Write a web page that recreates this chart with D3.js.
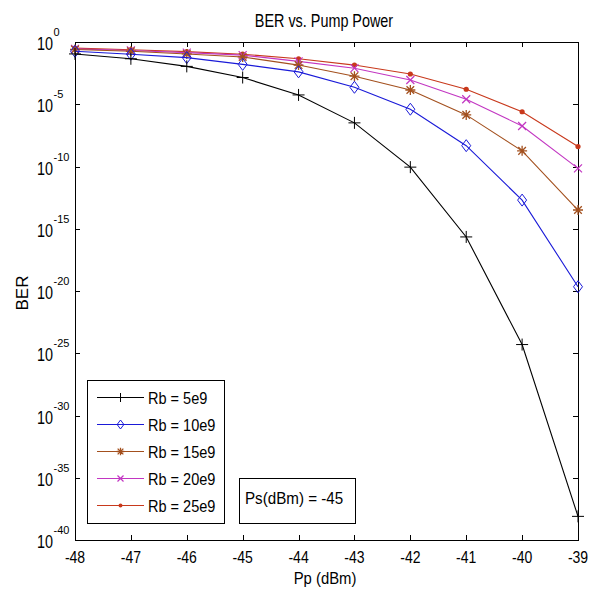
<!DOCTYPE html>
<html>
<head>
<meta charset="utf-8">
<script src="https://cdn.jsdelivr.net/npm/d3@7"></script>
<style>
  body { margin: 0; background: #fff; }
  text { font-family: "Liberation Sans", Arial, sans-serif; fill: #000; }
</style>
</head>
<body>
<div id="chart"></div>
<script>
// Pump power (dBm) on the x axis
var pumpPower = [-48, -47, -46, -45, -44, -43, -42, -41, -40, -39];

// BER, one array per bit rate
var ber5e9  = [1.1e-1, 4.5e-2, 1.1e-2, 1.4e-3, 5.6e-5, 3.2e-7, 8.9e-11, 2.2e-16, 5e-25, 7.9e-39];
var ber10e9 = [1.8e-1, 1.05e-1, 5.6e-2, 1.6e-2, 4e-3, 2.3e-4, 4e-6, 4.7e-9, 2e-13, 2.2e-20];
var ber15e9 = [2.5e-1, 1.8e-1, 1.1e-1, 6.3e-2, 1.4e-2, 1.8e-3, 1.4e-4, 1.4e-6, 1.8e-9, 3.2e-14];
var ber20e9 = [2.8e-1, 2.1e-1, 1.4e-1, 8.9e-2, 2.8e-2, 7.9e-3, 8.9e-4, 2.5e-5, 1.8e-7, 7.1e-11];
var ber25e9 = [3.2e-1, 2.4e-1, 1.7e-1, 1.05e-1, 4.5e-2, 1.4e-2, 2.7e-3, 1.6e-4, 2.5e-6, 4e-9];

var seriesNames = ["Rb = 5e9", "Rb = 10e9", "Rb = 15e9", "Rb = 20e9", "Rb = 25e9"];
var yTickExp = [0, -5, -10, -15, -20, -25, -30, -35, -40];

var series = [
  { name: seriesNames[0], values: ber5e9,  color: "#000000", marker: "plus" },
  { name: seriesNames[1], values: ber10e9, color: "#1a1ad8", marker: "diamond" },
  { name: seriesNames[2], values: ber15e9, color: "#a3501e", marker: "star" },
  { name: seriesNames[3], values: ber20e9, color: "#c236c2", marker: "cross" },
  { name: seriesNames[4], values: ber25e9, color: "#c8391c", marker: "dot" }
];

var W = 595, H = 591;
var pLeft = 75, pRight = 578, pTop = 42, pBottom = 540;

var svg = d3.select("#chart").append("svg")
  .attr("width", W)
  .attr("height", H);

var x = d3.scaleLinear().domain([-48, -39]).range([pLeft, pRight]);
var y = d3.scaleLog().domain([1, 1e-40]).range([pTop, pBottom]);

// text squeezed sideways, the picture is stretched vertically
function label(parent, tx, ty, str, size, sx, anchor) {
  return parent.append("text")
    .attr("transform", "translate(" + tx + "," + ty + ") scale(" + sx + ",1)")
    .attr("text-anchor", anchor || "start")
    .style("font-size", size + "px")
    .text(str);
}

// frame
svg.append("rect")
  .attr("x", pLeft + 0.5).attr("y", pTop + 0.5)
  .attr("width", pRight - pLeft).attr("height", pBottom - pTop)
  .attr("fill", "none").attr("stroke", "#000").attr("stroke-width", 1);

// ticks, inward on all four sides
var tk = 5;
pumpPower.forEach(function (p) {
  var xx = Math.round(x(p)) + 0.5;
  svg.append("line").attr("x1", xx).attr("x2", xx).attr("y1", pBottom).attr("y2", pBottom - tk).attr("stroke", "#000");
  svg.append("line").attr("x1", xx).attr("x2", xx).attr("y1", pTop).attr("y2", pTop + tk).attr("stroke", "#000");
  label(svg, x(p), 563, p, 16.5, 0.85, "middle");
});

yTickExp.forEach(function (e) {
  var yy = Math.round(y(Math.pow(10, e))) + 0.5;
  svg.append("line").attr("x1", pLeft).attr("x2", pLeft + tk).attr("y1", yy).attr("y2", yy).attr("stroke", "#000");
  svg.append("line").attr("x1", pRight).attr("x2", pRight - tk).attr("y1", yy).attr("y2", yy).attr("stroke", "#000");
  label(svg, 37, yy + 7, "10", 18, 0.8);
  label(svg, 53.5, yy - 6.5, e, 11, 1);
});

// curves
var line = d3.line()
  .x(function (d, i) { return x(pumpPower[i]); })
  .y(function (d) { return y(d); });

function drawMarker(g, type, cx, cy, color, k) {
  k = k || 1;
  if (type == "plus") {
    g.append("path").attr("d", "M" + (cx - 6 * k) + "," + cy + "H" + (cx + 6 * k) + "M" + cx + "," + (cy - 6 * k) + "V" + (cy + 6 * k))
      .attr("stroke", color).attr("fill", "none");
  } else if (type == "diamond") {
    g.append("path").attr("d", "M" + cx + "," + (cy - 6 * k) + "L" + (cx + 4.5 * k) + "," + cy + "L" + cx + "," + (cy + 6 * k) + "L" + (cx - 4.5 * k) + "," + cy + "Z")
      .attr("stroke", color).attr("fill", "none");
  } else if (type == "star") {
    var a = 5 * k, b = 3.8 * k;
    g.append("path").attr("d", "M" + (cx - a) + "," + cy + "H" + (cx + a) + "M" + cx + "," + (cy - a) + "V" + (cy + a) +
      "M" + (cx - b) + "," + (cy - b) + "L" + (cx + b) + "," + (cy + b) + "M" + (cx - b) + "," + (cy + b) + "L" + (cx + b) + "," + (cy - b))
      .attr("stroke", color).attr("fill", "none").attr("stroke-width", 1.3);
  } else if (type == "cross") {
    var c = 4 * k;
    g.append("path").attr("d", "M" + (cx - c) + "," + (cy - c) + "L" + (cx + c) + "," + (cy + c) + "M" + (cx - c) + "," + (cy + c) + "L" + (cx + c) + "," + (cy - c))
      .attr("stroke", color).attr("fill", "none").attr("stroke-width", 1.2);
  } else {
    g.append("circle").attr("cx", cx).attr("cy", cy).attr("r", 2.6 * k).attr("fill", color);
  }
}

series.slice().reverse().forEach(function (s) {
  var g = svg.append("g");
  g.append("path").datum(s.values)
    .attr("d", line)
    .attr("fill", "none")
    .attr("stroke", s.color)
    .attr("stroke-width", 1.1);
  s.values.forEach(function (v, i) {
    drawMarker(g, s.marker, x(pumpPower[i]), y(v), s.color, 1);
  });
});

// title and axis labels
label(svg, 324, 26.5, "BER vs. Pump Power", 18, 0.8, "middle");
label(svg, 325, 584, "Pp (dBm)", 16.5, 0.9, "middle");
svg.append("text").attr("transform", "translate(28,293) rotate(-90)").attr("text-anchor", "middle")
  .style("font-size", "17px").text("BER");

// legend
var lg = svg.append("g");
lg.append("rect").attr("x", 87.5).attr("y", 380.5).attr("width", 137).attr("height", 143)
  .attr("fill", "#fff").attr("stroke", "#000");
series.forEach(function (s, i) {
  var ly = 397.5 + i * 27;
  lg.append("line").attr("x1", 97).attr("x2", 144).attr("y1", ly).attr("y2", ly).attr("stroke", s.color).attr("stroke-width", 1.1);
  drawMarker(lg, s.marker, 120.5, ly, s.color, 0.75);
  label(lg, 148, ly + 6, s.name, 16.5, 0.88);
});

// annotation
svg.append("rect").attr("x", 239.5).attr("y", 478.5).attr("width", 116).attr("height", 45)
  .attr("fill", "#fff").attr("stroke", "#000");
label(svg, 245, 504, "Ps(dBm) = -45", 16.5, 0.92);
</script>
</body>
</html>
